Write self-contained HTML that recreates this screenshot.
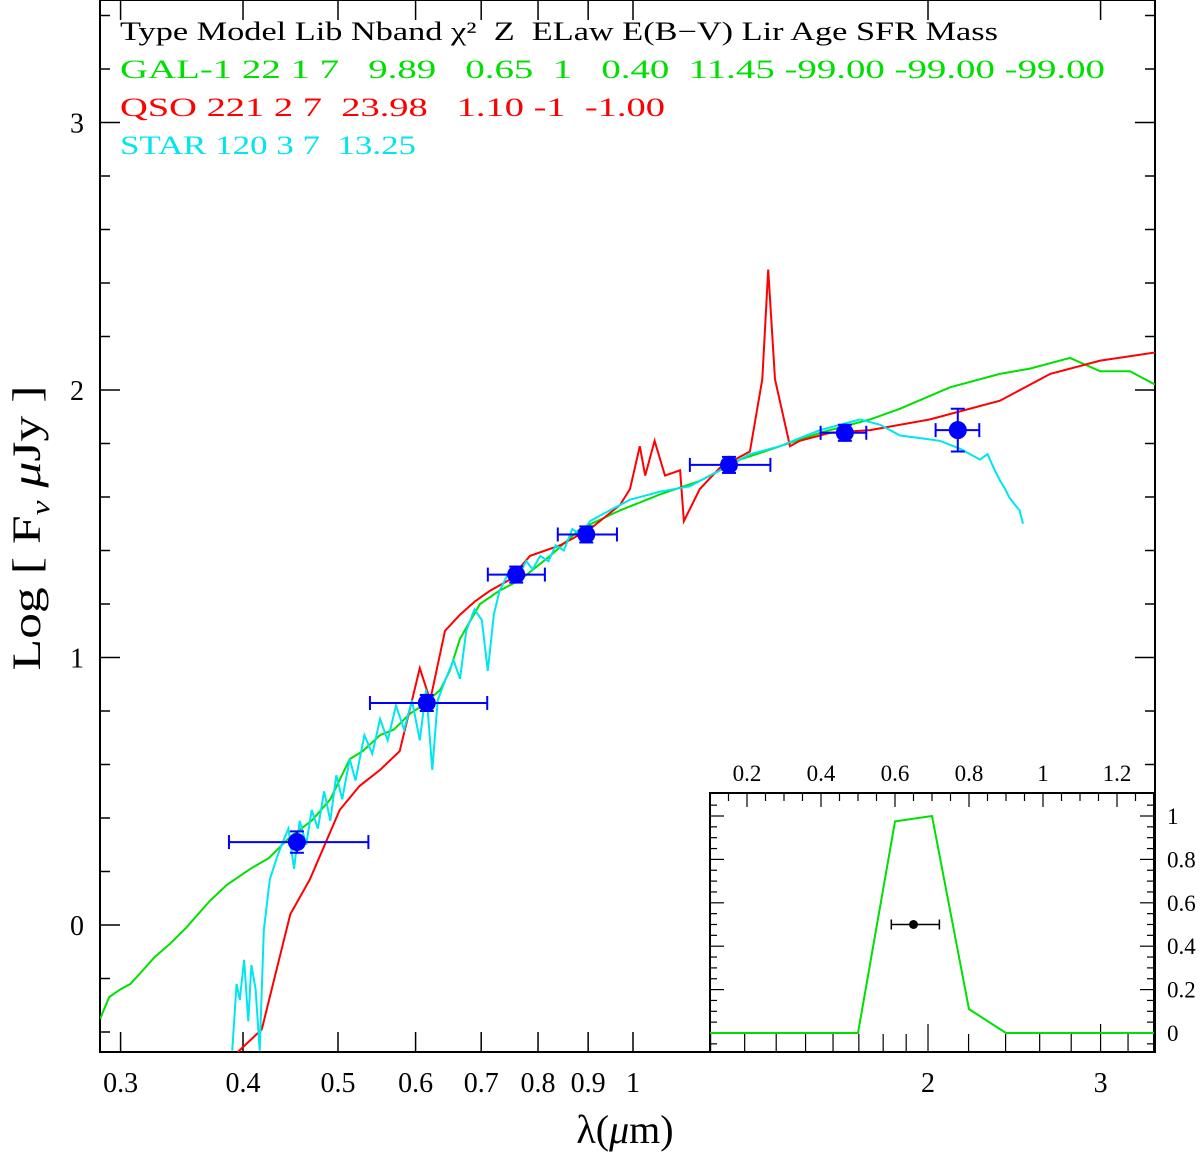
<!DOCTYPE html>
<html><head><meta charset="utf-8"><style>
html,body{margin:0;padding:0;background:#fff;width:1200px;height:1153px;overflow:hidden}
svg text{font-family:"Liberation Serif",serif;fill:#000;white-space:pre}
</style></head><body>
<svg id="c" width="1200" height="1153" viewBox="0 0 1200 1153" xmlns="http://www.w3.org/2000/svg">
<g id="plot"></g>
<g id="inset"></g>
<g font-size="26">
<text xml:space="preserve" x="120" y="40" textLength="878" lengthAdjust="spacingAndGlyphs">Type Model Lib Nband χ²  Z  ELaw E(B−V) Lir Age SFR Mass</text>
<text xml:space="preserve" x="120" y="78" textLength="985" lengthAdjust="spacingAndGlyphs" style="fill:#00e000">GAL-1 22 1 7   9.89   0.65  1   0.40  11.45 -99.00 -99.00 -99.00</text>
<text xml:space="preserve" x="120" y="116" textLength="545" lengthAdjust="spacingAndGlyphs" style="fill:#ff0000">QSO 221 2 7  23.98   1.10 -1  -1.00</text>
<text xml:space="preserve" x="120" y="154" textLength="296" lengthAdjust="spacingAndGlyphs" style="fill:#00e5ee">STAR 120 3 7  13.25</text>
</g>
<text x="0" y="0" font-size="40" transform="translate(40,528) rotate(-90)" text-anchor="middle" textLength="285" lengthAdjust="spacingAndGlyphs">Log [ F<tspan font-size="26" dy="9" font-style="italic">ν</tspan><tspan dy="-9" font-style="italic"> μ</tspan>Jy ]</text>
<text x="625" y="1143" font-size="40" text-anchor="middle">λ(<tspan font-style="italic">μ</tspan>m)</text>
</svg>
<script>
// ---- data ----
const obsLam=[0.454,0.616,0.760,0.896,1.253,1.645,2.145];
const obsF=[0.31,0.83,1.31,1.46,1.72,1.84,1.85];
const obsLamLo=[0.387,0.539,0.711,0.838,1.143,1.554,2.036];
const obsLamHi=[0.537,0.710,0.813,0.963,1.381,1.730,2.256];
const obsFerr=[0.04,0.03,0.03,0.03,0.03,0.03,0.08];
const galLam=[0.286,0.292,0.300,0.307,0.316,0.325,0.337,0.350,0.370,0.385,0.407,0.425,0.447,0.470,0.491,0.514,0.530,0.552,0.570,0.592,0.610,0.636,0.650,0.666,0.698,0.731,0.767,0.823,0.883,0.970,1.066,1.170,1.286,1.413,1.552,1.746,1.873,2.106,2.368,2.541,2.792,2.997,3.215,3.41];
const galF=[-0.35,-0.27,-0.24,-0.22,-0.17,-0.12,-0.07,-0.01,0.09,0.15,0.21,0.25,0.33,0.39,0.47,0.62,0.65,0.71,0.73,0.79,0.82,0.88,0.95,1.07,1.20,1.25,1.29,1.38,1.48,1.55,1.61,1.66,1.74,1.79,1.84,1.89,1.93,2.01,2.06,2.08,2.12,2.07,2.07,2.02];
const qsoLam=[0.395,0.418,0.447,0.468,0.502,0.526,0.552,0.578,0.606,0.621,0.643,0.666,0.690,0.715,0.748,0.785,0.843,0.904,0.970,0.993,1.016,1.029,1.052,1.078,1.117,1.127,1.170,1.227,1.316,1.355,1.374,1.396,1.446,1.480,1.589,1.746,2.010,2.368,2.665,2.997,3.41];
const qsoF=[-0.475,-0.39,0.04,0.17,0.43,0.52,0.58,0.65,0.96,0.84,1.10,1.16,1.21,1.25,1.29,1.38,1.42,1.48,1.57,1.63,1.79,1.68,1.81,1.68,1.70,1.51,1.63,1.71,1.77,2.04,2.45,2.04,1.79,1.81,1.84,1.85,1.89,1.96,2.06,2.11,2.14];
const starLam=[0.390,0.394,0.397,0.401,0.405,0.408,0.412,0.416,0.420,0.426,0.432,0.438,0.445,0.451,0.457,0.464,0.470,0.477,0.484,0.491,0.498,0.505,0.514,0.521,0.532,0.542,0.552,0.562,0.573,0.584,0.595,0.606,0.615,0.624,0.632,0.644,0.656,0.666,0.676,0.689,0.701,0.711,0.721,0.731,0.745,0.760,0.778,0.790,0.804,0.820,0.834,0.850,0.867,0.885,0.904,0.947,0.993,1.066,1.143,1.227,1.316,1.413,1.480,1.552,1.626,1.705,1.787,1.873,1.963,2.056,2.157,2.260,2.300,2.340,2.370,2.397,2.420,2.454,2.480,2.500];
const starF=[-0.47,-0.22,-0.28,-0.13,-0.36,-0.15,-0.24,-0.47,-0.02,0.17,0.24,0.30,0.36,0.21,0.39,0.30,0.43,0.36,0.50,0.39,0.56,0.47,0.62,0.54,0.71,0.64,0.77,0.69,0.82,0.73,0.84,0.69,0.88,0.58,0.84,0.92,0.99,0.92,1.10,1.18,1.14,0.95,1.16,1.25,1.31,1.29,1.36,1.33,1.38,1.36,1.42,1.40,1.48,1.46,1.51,1.55,1.59,1.62,1.64,1.70,1.76,1.79,1.82,1.85,1.87,1.89,1.87,1.83,1.82,1.81,1.78,1.74,1.76,1.70,1.66,1.63,1.60,1.57,1.55,1.50];
const xTicks=[0.3,0.4,0.5,0.6,0.7,0.8,0.9,1,2,3];
const xTickLabels=["0.3","0.4","0.5","0.6","0.7","0.8","0.9","1","2","3"];
const yTicks=[0,1,2,3];
const filtX=[0.1,0.5,0.6,0.7,0.8,0.9,1.3];
const filtY=[0,0,0.975,1.0,0.11,0,0];
const filtPtX=[0.65], filtPtY=[0.5], filtPtLo=[0.59], filtPtHi=[0.72];
const insetXTicks=[0.2,0.4,0.6,0.8,1,1.2];
const insetYTicks=[0,0.2,0.4,0.6,0.8,1];

// ---- axes ----
const L=100,R=1155,T=0,B=1052;
const X=l=>633+980*Math.log10(l);
const Y=f=>925-267.5*f;
const NS="http://www.w3.org/2000/svg";
function mk(p,t,a){const e=document.createElementNS(NS,t);for(const k in a)e.setAttribute(k,a[k]);p.appendChild(e);return e;}
const P=document.getElementById('plot');
const cp=mk(document.getElementById('c'),'clipPath',{id:'clipm'});
mk(cp,'rect',{x:L,y:T,width:R-L,height:B-T});
const frame=mk(P,'rect',{x:L,y:T,width:R-L,height:B-T,fill:'none',stroke:'#000','stroke-width':2});


xTicks.forEach((v,i)=>{
 const x=X(v);
 mk(P,'line',{x1:x,x2:x,y1:B,y2:B-20,stroke:'#000','stroke-width':1.5});
 mk(P,'line',{x1:x,x2:x,y1:T,y2:T+20,stroke:'#000','stroke-width':1.5});
 const t=mk(P,'text',{x:x,y:B+40,'font-size':28,'text-anchor':'middle'});
 t.textContent=xTickLabels[i];
 
 
});
for(let f=-0.4;f<3.5;f+=0.2){const y=Y(f);if(y<T||y>B)continue;
 const maj=Math.abs(f-Math.round(f))<0.01;const len=maj?20:10;
 mk(P,'line',{x1:L,x2:L+len,y1:y,y2:y,stroke:'#000','stroke-width':1.5});
 mk(P,'line',{x1:R,x2:R-len,y1:y,y2:y,stroke:'#000','stroke-width':1.5});}
yTicks.forEach(v=>{const t=mk(P,'text',{x:L-16,y:Y(v)+10,'font-size':28,'text-anchor':'end'});t.textContent=String(v);
 
 });
function line(xs,ys,col,name){const d=xs.map((v,i)=>(i?'L':'M')+X(v).toFixed(1)+','+Y(ys[i]).toFixed(1)).join('');
 const p=mk(P,'path',{d:d,fill:'none',stroke:col,'stroke-width':2,'clip-path':'url(#clipm)'});
 
 }
line(galLam,galF,'#00e000','gal-model-line');
line(qsoLam,qsoF,'#ff0000','qso-model-line');
line(starLam,starF,'#00e5ee','star-model-line');
obsLam.forEach((v,i)=>{
 const g=mk(P,'g',{stroke:'#0000ff','stroke-width':2});
 
 
 const y=Y(obsF[i]),x1=X(obsLamLo[i]),x2=X(obsLamHi[i]),y1=Y(obsF[i]+obsFerr[i]),y2=Y(obsF[i]-obsFerr[i]);
 mk(g,'line',{x1:x1,x2:x2,y1:y,y2:y});
 mk(g,'line',{x1:x1,x2:x1,y1:y-7,y2:y+7});mk(g,'line',{x1:x2,x2:x2,y1:y-7,y2:y+7});
 mk(g,'line',{x1:X(v),x2:X(v),y1:y1,y2:y2});
 mk(g,'line',{x1:X(v)-7,x2:X(v)+7,y1:y1,y2:y1});mk(g,'line',{x1:X(v)-7,x2:X(v)+7,y1:y2,y2:y2});
 mk(g,'circle',{cx:X(v),cy:y,r:9,fill:'#0000ff',stroke:'none'});
});
// ---- inset ----
const I=document.getElementById('inset');
const iL=710,iR=1154,iT=793,iB=1052;
const IX=v=>673+370*v, IY=v=>1033-217*v;
mk(I,'rect',{x:iL,y:iT,width:iR-iL,height:iB-iT,fill:'#fff',stroke:'#000','stroke-width':2});
for(let v=0.1;v<1.31;v+=0.05){const x=IX(v);const maj=Math.abs(v*5-Math.round(v*5))<0.01;const len=maj?14:8;
 mk(I,'line',{x1:x,x2:x,y1:iT,y2:iT+len,stroke:'#000','stroke-width':1.2});}
insetXTicks.forEach(v=>{const t=mk(I,'text',{x:IX(v),y:iT-12,'font-size':23,'text-anchor':'middle'});t.textContent=String(v);
 
 });
for(let v=-0.05;v<1.1;v+=0.05){const y=IY(v);if(y<iT||y>iB)continue;const maj=Math.abs(v*5-Math.round(v*5))<0.01;const len=maj?14:7;
 mk(I,'line',{x1:iL,x2:iL+len,y1:y,y2:y,stroke:'#000','stroke-width':1.2});
 mk(I,'line',{x1:iR,x2:iR-len,y1:y,y2:y,stroke:'#000','stroke-width':1.2});}
insetYTicks.forEach(v=>{const t=mk(I,'text',{x:iR+13,y:IY(v)+8,'font-size':23});t.textContent=String(v);
 
 });
[1.1,1.2,1.3,1.4,1.5,1.6,1.7,1.8,1.9,2,2.2,2.4,2.6,2.8,3,3.2,3.4].forEach(v=>{const x=X(v);if(x<iL||x>iR)return;
 const maj=(v===2||v===3);mk(I,'line',{x1:x,x2:x,y1:iB,y2:iB-(maj?28:18),stroke:'#000','stroke-width':1.2});});
const fp=mk(I,'path',{d:filtX.map((v,i)=>(i?'L':'M')+IX(v)+','+IY(filtY[i])).join(''),fill:'none',stroke:'#00e000','stroke-width':2});


filtPtX.forEach((v,i)=>{const y=IY(filtPtY[i]);
 mk(I,'line',{x1:IX(filtPtLo[i]),x2:IX(filtPtHi[i]),y1:y,y2:y,stroke:'#000','stroke-width':1.5});
 mk(I,'line',{x1:IX(filtPtLo[i]),x2:IX(filtPtLo[i]),y1:y-5,y2:y+5,stroke:'#000','stroke-width':1.5});
 mk(I,'line',{x1:IX(filtPtHi[i]),x2:IX(filtPtHi[i]),y1:y-5,y2:y+5,stroke:'#000','stroke-width':1.5});
 const c=mk(I,'circle',{cx:IX(v),cy:y,r:4.5,fill:'#000'});
 
 });
</script>
</body></html>
